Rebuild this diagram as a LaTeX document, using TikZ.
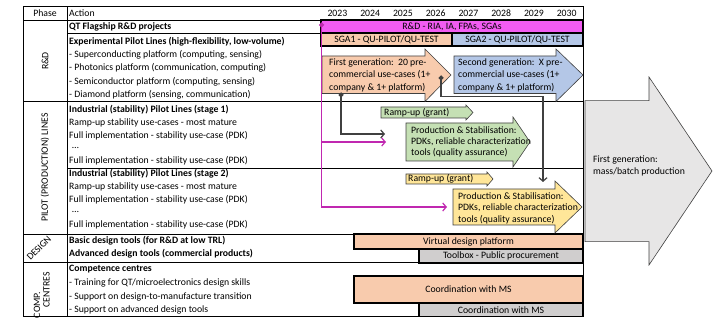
\documentclass[tikz,border=0pt]{standalone}
\usepackage{fontspec}
\setmainfont{Carlito}
\usetikzlibrary{arrows.meta}

\definecolor{peach}{RGB}{248,203,173}
\definecolor{skyblue}{RGB}{180,199,231}
\definecolor{leaf}{RGB}{197,224,180}
\definecolor{sand}{RGB}{255,230,153}
\definecolor{fog}{RGB}{231,230,230}
\definecolor{slate}{RGB}{208,206,206}
\definecolor{pinkbar}{RGB}{242,92,242}
\definecolor{pinkline}{RGB}{192,40,176}
\definecolor{darkline}{RGB}{64,64,64}

\begin{document}
\begin{tikzpicture}[x=1pt,y=1pt,
    every node/.style={inner sep=0pt,font=\fontsize{9.75}{12}\selectfont},
    grid/.style={draw,line width=0.7pt},
    bar/.style={draw,line width=1.3pt,inner sep=0pt},
    blk/.style={draw=darkline,line width=0.6pt},
    row/.style={anchor=west},
    boxtext/.style={anchor=west,align=left,font=\fontsize{9.75}{12.5}\selectfont},
    conn/.style={draw=darkline,line width=1.2pt,
        arrows={Circle[length=5pt]-Straight Barb[length=3.5pt,width=8pt]}},
    pconn/.style={draw=pinkline,line width=1.2pt,
        arrows={-Straight Barb[length=3.5pt,width=8pt]}}]
\useasboundingbox (0,0) rectangle (717,326);

% table lines
\path[grid] (23,9.5) rectangle (583,320);
\path[grid] (67,9.5) -- (67,320);
\path[grid] (23,306) -- (321,306);
\path[grid] (67,293) -- (321,293);
\path[grid] (23,225) -- (583,225);
\path[grid] (67,158) -- (583,158);
\path[grid] (23,92) -- (354,92);
\path[grid] (23,64) -- (419,64);

% header
\node (phase) at (45,313) {Phase};
\node[row] (action) at (69,313) {Action};
\foreach \yr [count=\i from 0] in {2023,...,2030}
    \node (y\yr) at (337.4+32.75*\i,313) {\yr};

% phases
\node[rotate=90] (rnd) at (45,265) {R\&D};
\node[rotate=90] (pilot) at (45,158.5) {PILOT (PRODUCTION) LINES};
\node[rotate=45] (design) at (39,78) {DESIGN};
\node[rotate=90] (comp) at (37,21) {COMP.};
\node[rotate=90] (centres) at (46.5,36) {CENTRES};

% actions
\node[row] (qt) at (69,299.5) {\textbf{QT Flagship R\&D projects}};
\node[row] (expl) at (69,284.5) {\textbf{Experimental Pilot Lines (high-flexibility, low-volume)}};
\foreach \t [count=\k] in {{Superconducting platform (computing, sensing)},
        {Photonics platform (communication, computing)},
        {Semiconductor platform (computing, sensing)},
        {Diamond platform (sensing, communication)}}
    \node[row] (plat\k) at (69,284.5-13.3*\k) {- \t};

\foreach \s/\top in {1/216,2/152} {
    \node[row] (ind\s) at (69,\top) {\textbf{Industrial (stability) Pilot Lines (stage \s)}};
    \node[row] (ramp\s) at (69,\top-13) {Ramp-up stability use-cases - most mature};
    \node[row] (fulla\s) at (69,\top-26) {Full implementation - stability use-case (PDK)};
    \node[row] (dots\s) at (72,\top-38) {…};
    \node[row] (fullb\s) at (69,\top-51) {Full implementation - stability use-case (PDK)};
}

\node[row] (basic) at (69,85) {\textbf{Basic design tools (for R\&D at low TRL)}};
\node[row] (adv) at (69,72) {\textbf{Advanced design tools (commercial products)}};
\node[row] (cc) at (69,56.5) {\textbf{Competence centres}};
\node[row] (train) at (69,43) {- Training for QT/microelectronics design skills};
\node[row] (supa) at (69,29.5) {- Support on design-to-manufacture transition};
\node[row] (supb) at (69,16.5) {- Support on advanced design tools};

% timeline bars
\node[bar,fill=pinkbar,minimum width=262pt,minimum height=13pt] (rdbar) at (452,299.5) {R\&D - RIA, IA, FPAs, SGAs};
\node[bar,fill=peach,minimum width=131pt,minimum height=13pt] (sga1) at (386.5,286.5) {SGA1 - QU-PILOT/QU-TEST};
\node[bar,fill=skyblue,minimum width=131pt,minimum height=13pt] (sga2) at (517.5,286.5) {SGA2 - QU-PILOT/QU-TEST};
\node[bar,fill=peach,minimum width=229pt,minimum height=15pt] (vdp) at (468.5,84.5) {Virtual design platform};
\node[bar,fill=slate,minimum width=164pt,minimum height=14pt] (tbx) at (501,70) {Toolbox - Public procurement};
\node[bar,fill=peach,minimum width=229pt,minimum height=27pt] (coa) at (468.5,36.5) {Coordination with MS};
\node[bar,fill=slate,minimum width=164pt,minimum height=13.5pt] (cob) at (501,16.25) {Coordination with MS};

% block arrows
\path[blk,fill=peach] (322,232.5) -- ++(0:103) -- ++(270:8) -- (451,251)
    -- (425,277) -- ++(270:7) -- ++(180:103) -- cycle;
\path[blk,fill=skyblue] (454,232.5) -- ++(0:102) -- ++(270:8) -- (583,251)
    -- (556,277) -- ++(270:7) -- ++(180:102) -- cycle;
\path[blk,fill=leaf] (381,208) -- ++(0:85) -- ++(270:2) -- (473,213.5)
    -- (466,221) -- ++(270:2) -- ++(180:85) -- cycle;
\path[blk,fill=leaf] (406,165) -- ++(0:107) -- ++(270:6) -- (530,184)
    -- (513,209) -- ++(270:6) -- ++(180:107) -- cycle;
\path[blk,fill=sand] (406,142) -- ++(0:81) -- ++(270:2) -- (493,147)
    -- (487,154) -- ++(270:2) -- ++(180:81) -- cycle;
\path[blk,fill=sand] (453,101) -- ++(0:102) -- ++(270:8) -- (582,119)
    -- (555,145) -- ++(270:8) -- ++(180:102) -- cycle;
\path[blk,fill=fog] (585,84.3) -- ++(0:64) -- ++(270:23.3) -- (712,155)
    -- (649,249) -- ++(270:23.7) -- ++(180:64) -- cycle;

\node[boxtext] (gen1) at (329,251) {First generation:\ \ 20 pre-\\commercial use-cases (1+\\company \& 1+ platform)};
\node[boxtext] (gen2) at (458,251) {Second generation:\ \ X pre-\\commercial use-cases (1+\\company \& 1+ platform)};
\node[row] (rampg) at (384,213.5) {Ramp-up (grant)};
\node[boxtext,font=\fontsize{9.75}{11}\selectfont] (prodg) at (411,184) {Production \& Stabilisation:\\PDKs, reliable characterization\\tools (quality assurance)};
\node[row] (rampy) at (408,147) {Ramp-up (grant)};
\node[boxtext,font=\fontsize{9.75}{11.5}\selectfont] (prody) at (458,118) {Production \& Stabilisation:\\PDKs, reliable characterization\\tools (quality assurance)};
\node[boxtext,font=\fontsize{9.75}{11.5}\selectfont] (mass) at (593,160) {First generation:\\mass/batch production};

% connectors
\coordinate (gdot1) at (341,233.5);
\coordinate (gdot2) at (441,250.5);
\coordinate (pdot) at (321.5,303.5);
\coordinate (gin1) at (385,192);
\coordinate (pin1) at (386,184);
\coordinate (pin2) at (447,119);
\coordinate (gtop2) at (543,144);

\draw[conn] (gdot1) |- (gin1);
\draw[conn] (gdot2) -- ++(270:21) -| (gtop2);
\draw[pconn,arrows={Circle[length=5pt]-Straight Barb[length=3.5pt,width=8pt]}] (pdot) |- (pin2);
\draw[pconn] (pdot |- pin1) -- (pin1);

\end{tikzpicture}
\end{document}
